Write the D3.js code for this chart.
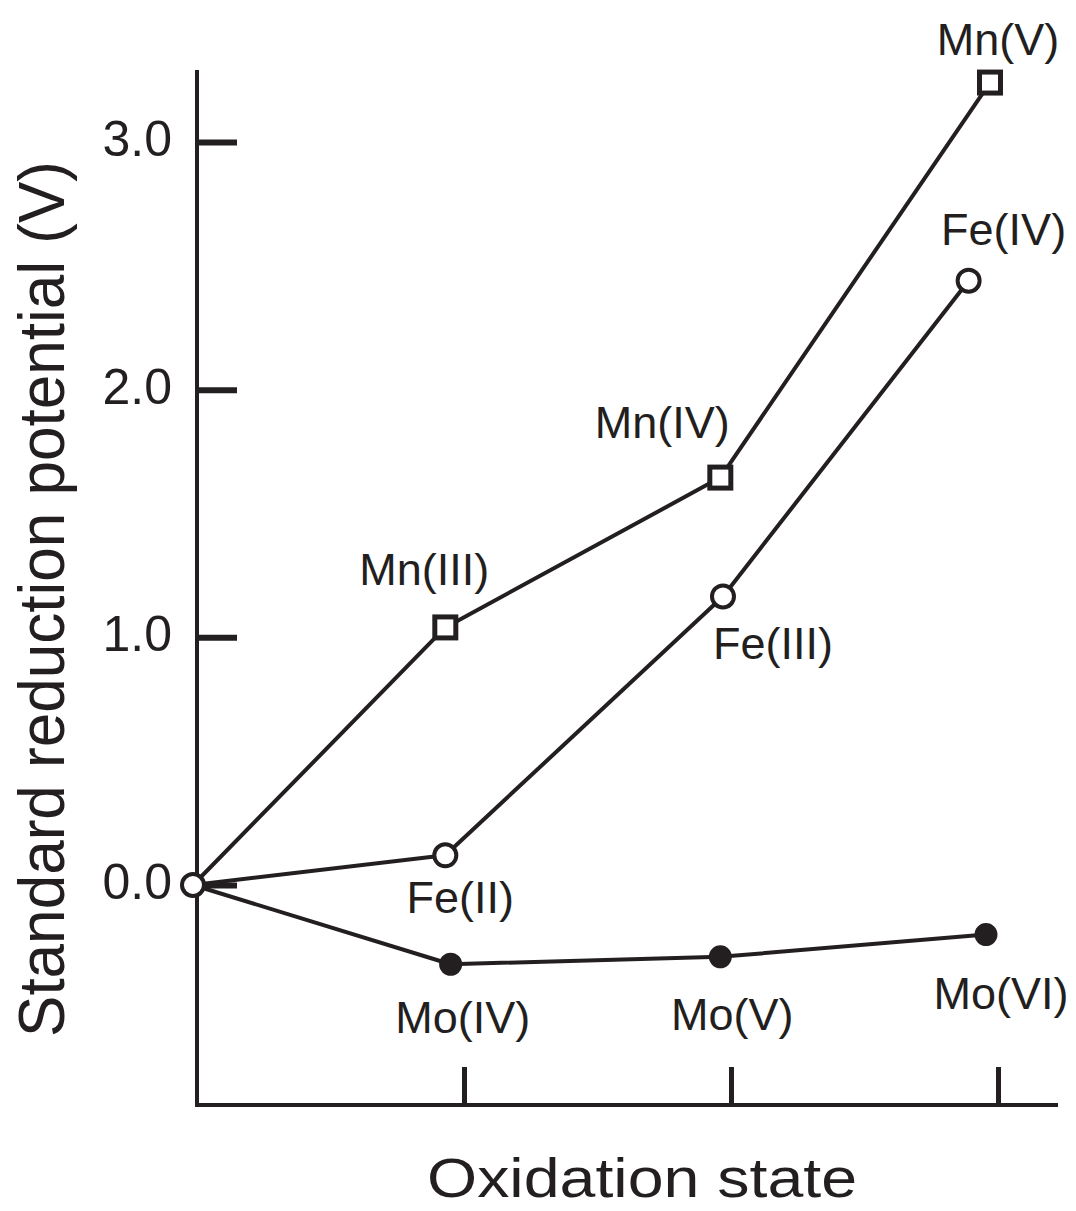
<!DOCTYPE html>
<html>
<head>
<meta charset="utf-8">
<script src="https://cdn.jsdelivr.net/npm/d3@7"></script>
<style>
  html, body { margin: 0; padding: 0; background: #fff; }
  svg text { font-family: "Liberation Sans", Arial, Helvetica, sans-serif; fill: #231f20; }
</style>
</head>
<body>
<svg id="chart" width="1076" height="1211"></svg>
<script>
// Oxidation state (x) and standard reduction potential in volts (y)
const origin = { x: 0.985, y: 0.0 };

const mnStates = ["Mn(III)", "Mn(IV)", "Mn(V)"];
const mnX = [1.93, 2.96, 3.97];
const mnV = [1.04, 1.645, 3.24];

const feStates = ["Fe(II)", "Fe(III)", "Fe(IV)"];
const feX = [1.93, 2.97, 3.89];
const feV = [0.12, 1.165, 2.44];

const moStates = ["Mo(IV)", "Mo(V)", "Mo(VI)"];
const moX = [1.95, 2.96, 3.955];
const moV = [-0.32, -0.29, -0.2];

const yTicks = [0, 1, 2, 3];
const yTickLabels = ["0.0", "1.0", "2.0", "3.0"];
const xTicks = [2, 3, 4];

const ink = "#231f20";
const svg = d3.select("#chart");

const x = d3.scaleLinear().domain([1, 4]).range([197, 998]);
const y = d3.scaleLinear().domain([0, 3]).range([885, 142]);

// Axis frame: left and bottom lines
const yTop = 70, xBottom = 1105, xRight = 1058;
svg.append("line").attr("x1", x(1)).attr("x2", x(1)).attr("y1", yTop).attr("y2", xBottom)
  .attr("stroke", ink).attr("stroke-width", 4);
svg.append("line").attr("x1", x(1) - 2).attr("x2", xRight).attr("y1", xBottom).attr("y2", xBottom)
  .attr("stroke", ink).attr("stroke-width", 4);

// Y ticks point inward
const yAxis = d3.axisRight(y).tickValues(yTicks).tickSize(40).tickFormat("");
const gy = svg.append("g").attr("transform", `translate(${x(1)},0)`).call(yAxis);
gy.select(".domain").remove();
gy.selectAll(".tick line").attr("stroke", ink).attr("stroke-width", 6);

svg.append("g").selectAll("text").data(yTicks).join("text")
  .attr("x", 172).attr("y", d => y(d) + 14)
  .attr("text-anchor", "end").attr("font-size", 50)
  .text((d, i) => yTickLabels[i]);

// X ticks point inward, without labels
const xAxis = d3.axisTop(x).tickValues(xTicks).tickSize(38).tickFormat("");
const gx = svg.append("g").attr("transform", `translate(0,${xBottom})`).call(xAxis);
gx.select(".domain").remove();
gx.selectAll(".tick line").attr("stroke", ink).attr("stroke-width", 5);

// Axis titles
svg.append("text").attr("x", 642).attr("y", 1197).attr("text-anchor", "middle")
  .attr("font-size", 56).attr("textLength", 430).attr("lengthAdjust", "spacingAndGlyphs")
  .text("Oxidation state");
svg.append("text").attr("transform", "translate(64,599) rotate(-90)")
  .attr("text-anchor", "middle").attr("font-size", 64)
  .attr("textLength", 876).attr("lengthAdjust", "spacingAndGlyphs")
  .text("Standard reduction potential (V)");

// Series lines from the origin
const line = d3.line().x(d => x(d.x)).y(d => y(d.y));
function series(xs, vs, names) {
  return [origin].concat(xs.map((xv, i) => ({ x: xv, y: vs[i], name: names[i] })));
}
const mn = series(mnX, mnV, mnStates);
const fe = series(feX, feV, feStates);
const mo = series(moX, moV, moStates);

[mn, fe, mo].forEach(s => {
  svg.append("path").datum(s).attr("d", line)
    .attr("fill", "none").attr("stroke", ink).attr("stroke-width", 4)
    .attr("stroke-linejoin", "round");
});

// Markers
svg.append("g").selectAll("circle").data(mo.slice(1)).join("circle")
  .attr("cx", d => x(d.x)).attr("cy", d => y(d.y)).attr("r", 11.5).attr("fill", ink);

svg.append("g").selectAll("circle").data(fe.slice(1).concat([origin])).join("circle")
  .attr("cx", d => x(d.x)).attr("cy", d => y(d.y)).attr("r", 11)
  .attr("fill", "#fff").attr("stroke", ink).attr("stroke-width", 4);

svg.append("g").selectAll("rect").data(mn.slice(1)).join("rect")
  .attr("x", d => x(d.x) - 10.5).attr("y", d => y(d.y) - 10.5)
  .attr("width", 21).attr("height", 21)
  .attr("fill", "#fff").attr("stroke", ink).attr("stroke-width", 5);

// Point labels: offset in pixels from each marker
const labelOffsets = {
  "Mn(III)": [-21, -42], "Mn(IV)": [-58, -40], "Mn(V)": [8, -28],
  "Fe(II)": [15, 58], "Fe(III)": [50, 63], "Fe(IV)": [35, -36],
  "Mo(IV)": [12, 69], "Mo(V)": [12, 73], "Mo(VI)": [15, 74]
};
svg.append("g").selectAll("text").data(mn.slice(1).concat(fe.slice(1), mo.slice(1))).join("text")
  .attr("x", d => x(d.x) + labelOffsets[d.name][0])
  .attr("y", d => y(d.y) + labelOffsets[d.name][1])
  .attr("text-anchor", "middle").attr("font-size", 45)
  .text(d => d.name);
</script>
</body>
</html>
